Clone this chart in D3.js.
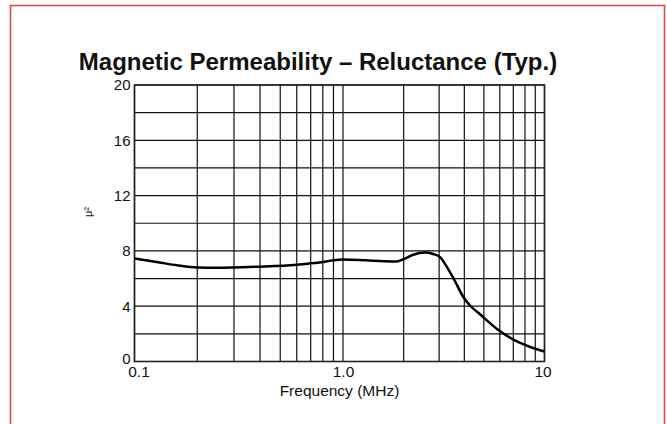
<!DOCTYPE html>
<html>
<head>
<meta charset="utf-8">
<script src="https://cdn.jsdelivr.net/npm/d3@7"></script>
<style>
  html, body { margin: 0; padding: 0; background: #fff; }
  svg { display: block; }
  text { font-family: "Liberation Sans", Arial, Helvetica, sans-serif; fill: #111; }
</style>
</head>
<body>
<svg id="chart" width="667" height="424"></svg>
<script>
// Permeability curve (frequency in MHz, μ² value)
const frequency = [0.1, 0.13, 0.16, 0.2, 0.25, 0.3, 0.4, 0.6, 0.8, 0.9, 1.0, 1.3, 1.6, 1.85, 2.0, 2.23, 2.55, 2.8, 3.03, 3.32, 3.6, 3.94, 4.27, 4.8, 6.0, 7.3, 8.5, 10];
const mu2       = [7.45, 7.18, 6.96, 6.8, 6.78, 6.8, 6.86, 7.0, 7.2, 7.33, 7.38, 7.32, 7.26, 7.24, 7.4, 7.72, 7.88, 7.78, 7.55, 6.7, 5.8, 4.7, 4.05, 3.4, 2.2, 1.45, 1.05, 0.72];

// Axis ticks and labels
const xTickValues = [0.1, 1, 10];
const xTickLabels = ["0.1", "1.0", "10"];
const xTickShift = [4, 0, -2];
const yTickValues = [0, 4, 8, 12, 16, 20];
const yGridValues = [0, 2, 4, 6, 8, 10, 12, 14, 16, 18, 20];
const xGridMultipliers = [1, 2, 3, 4, 5, 6, 7, 8, 9];
const xDecades = [0.1, 1];

const title = "Magnetic Permeability \u2013 Reluctance (Typ.)";
const xTitle = "Frequency (MHz)";
const yTitle = "\u03bc\u00b2";

const svg = d3.select("#chart");

// Outer frame
svg.append("rect")
  .attr("x", 10.5).attr("y", 5.5)
  .attr("width", 654).attr("height", 440)
  .attr("fill", "none")
  .attr("stroke", "#e2474d")
  .attr("stroke-width", 1.6);

const x = d3.scaleLog().domain([0.1, 1, 10]).range([134.5, 343, 544.5]);
const y = d3.scaleLinear().domain([0, 20]).range([361.5, 85]);

const plot = svg.append("g");

// Vertical log grid
const xGrid = [];
xDecades.forEach(d => xGridMultipliers.forEach(m => xGrid.push(d * m)));
xGrid.push(10);
plot.append("g").selectAll("line").data(xGrid).join("line")
  .attr("x1", d => x(d)).attr("x2", d => x(d))
  .attr("y1", y(0)).attr("y2", y(20))
  .attr("stroke", "#111").attr("stroke-width", 1.2);

// Horizontal grid
plot.append("g").selectAll("line").data(yGridValues).join("line")
  .attr("x1", x(0.1)).attr("x2", x(10))
  .attr("y1", d => y(d)).attr("y2", d => y(d))
  .attr("stroke", "#111").attr("stroke-width", 1.2);

// Plot border
plot.append("rect")
  .attr("x", x(0.1)).attr("y", y(20))
  .attr("width", x(10) - x(0.1)).attr("height", y(0) - y(20))
  .attr("fill", "none").attr("stroke", "#222").attr("stroke-width", 1.6);

const labelFont = "Liberation Sans, Arial, sans-serif";

// Axes (labels only; gridlines draw the ticks)
const xAxis = d3.axisBottom(x).tickValues(xTickValues)
  .tickFormat((d, i) => xTickLabels[i]).tickSize(0).tickPadding(4);
svg.append("g").attr("transform", `translate(0,${y(0)})`).call(xAxis)
  .call(g => g.select(".domain").remove())
  .selectAll("text")
  .attr("font-size", 15.5).attr("font-family", labelFont).attr("fill", "#111")
  .attr("dx", (d, i) => xTickShift[i]);

const yAxis = d3.axisLeft(y).tickValues(yTickValues).tickSize(0).tickPadding(4);
svg.append("g").attr("transform", `translate(${x(0.1)},0)`).call(yAxis)
  .call(g => g.select(".domain").remove())
  .selectAll("text")
  .attr("font-size", 15).attr("font-family", labelFont).attr("fill", "#111")
  .attr("y", d => d === 0 ? -3 : 0);

// Curve
const points = frequency.map((f, i) => [f, mu2[i]]);
const line = d3.line().x(d => x(d[0])).y(d => y(d[1])).curve(d3.curveMonotoneX);
plot.append("path").datum(points)
  .attr("d", line)
  .attr("fill", "none")
  .attr("stroke", "#000")
  .attr("stroke-width", 2.5)
  .attr("stroke-linejoin", "round");

// Titles
svg.append("text")
  .attr("x", 318).attr("y", 70)
  .attr("text-anchor", "middle")
  .attr("font-size", 24).attr("font-weight", "bold")
  .text(title);

svg.append("text")
  .attr("x", 339.5).attr("y", 396)
  .attr("text-anchor", "middle")
  .attr("font-size", 15.5)
  .text(xTitle);

svg.append("text")
  .attr("transform", `translate(92,212) rotate(-90)`)
  .attr("text-anchor", "middle")
  .attr("font-size", 11)
  .text(yTitle);
</script>
</body>
</html>
